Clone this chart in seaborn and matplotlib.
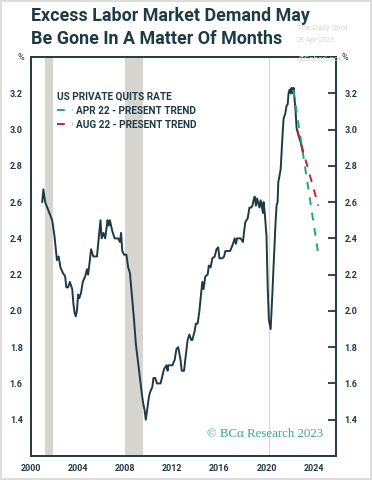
import matplotlib
matplotlib.use('Agg')
import matplotlib.pyplot as plt
import seaborn as sns
import pandas as pd

# US private quits rate (fractional year, %)
years = [2000.95, 2001.05, 2001.2, 2001.5, 2001.8, 2002.0, 2002.2, 2002.35, 2002.5, 2002.7,
         2002.9, 2003.0, 2003.15, 2003.3, 2003.5, 2003.6, 2003.7, 2003.8, 2003.9, 2004.0,
         2004.1, 2004.25, 2004.4, 2004.6, 2004.75, 2004.85, 2005.0, 2005.1, 2005.3, 2005.6,
         2005.8, 2005.9, 2006.0, 2006.15, 2006.3, 2006.4, 2006.5, 2006.6, 2006.7, 2006.9,
         2007.1, 2007.4, 2007.55, 2007.65, 2007.75, 2007.9, 2008.1, 2008.25, 2008.4, 2008.6,
         2008.75, 2008.9, 2009.1, 2009.3, 2009.4, 2009.5, 2009.65, 2009.75, 2009.9, 2010.0,
         2010.1, 2010.3, 2010.4, 2010.55, 2010.7, 2011.0, 2011.15, 2011.3, 2011.5, 2011.6,
         2011.65, 2012.0, 2012.2, 2012.35, 2012.5, 2012.7, 2012.8, 2013.0, 2013.1, 2013.3,
         2013.45, 2013.6, 2013.7, 2013.9, 2014.0, 2014.15, 2014.3, 2014.45, 2014.55, 2014.65,
         2014.8, 2015.0, 2015.1, 2015.25, 2015.4, 2015.6, 2015.75, 2015.9, 2016.0, 2016.25,
         2016.4, 2016.5, 2016.9, 2017.1, 2017.3, 2017.4, 2017.5, 2017.8, 2018.0, 2018.1,
         2018.2, 2018.4, 2018.55, 2018.7, 2018.8, 2018.9, 2019.0, 2019.1, 2019.2, 2019.4,
         2019.5, 2019.7, 2019.75, 2019.85, 2020.0, 2020.1, 2020.2, 2020.35, 2020.5, 2020.6,
         2020.77, 2020.85, 2020.94, 2021.0, 2021.2, 2021.36, 2021.45, 2021.6, 2021.7, 2021.8,
         2021.87, 2021.96, 2022.04, 2022.13, 2022.2, 2022.3, 2022.38, 2022.47, 2022.55, 2022.7,
         2022.9, 2023.1]
quits = [2.60, 2.67, 2.60, 2.55, 2.50, 2.41, 2.28, 2.30, 2.24, 2.21,
         2.19, 2.13, 2.13, 2.16, 2.12, 2.04, 1.99, 1.97, 2.00, 2.09,
         2.07, 2.10, 2.16, 2.19, 2.23, 2.20, 2.28, 2.34, 2.30, 2.30,
         2.43, 2.50, 2.40, 2.43, 2.40, 2.45, 2.50, 2.47, 2.50, 2.44,
         2.40, 2.40, 2.38, 2.43, 2.33, 2.31, 2.31, 2.24, 2.21, 2.06,
         1.95, 1.82, 1.71, 1.60, 1.55, 1.50, 1.45, 1.40, 1.47, 1.52,
         1.55, 1.58, 1.63, 1.63, 1.60, 1.60, 1.64, 1.68, 1.70, 1.67,
         1.70, 1.70, 1.73, 1.79, 1.80, 1.73, 1.67, 1.67, 1.73, 1.84,
         1.87, 1.84, 1.84, 1.89, 1.93, 1.93, 2.00, 2.10, 2.16, 2.12,
         2.19, 2.20, 2.25, 2.24, 2.29, 2.30, 2.34, 2.35, 2.29, 2.29,
         2.30, 2.33, 2.33, 2.36, 2.40, 2.37, 2.40, 2.40, 2.38, 2.44,
         2.49, 2.51, 2.57, 2.57, 2.58, 2.61, 2.63, 2.58, 2.62, 2.57,
         2.61, 2.54, 2.60, 2.54, 2.41, 2.13, 1.95, 1.90, 2.10, 2.25,
         2.49, 2.58, 2.60, 2.71, 2.78, 2.97, 3.06, 3.09, 3.13, 3.14,
         3.20, 3.22, 3.20, 3.23, 3.20, 3.23, 3.17, 3.10, 3.01, 2.97,
         2.93, 2.87]

# trend extrapolations
apr_trend_x = [2022.27, 2024.45]
apr_trend_y = [3.22, 2.29]
aug_trend_x = [2022.6, 2024.4]
aug_trend_y = [3.00, 2.58]

# recessions (start, end)
recessions = [(2001.2, 2001.9), (2008.0, 2009.5), (2020.22, 2020.32)]

x_ticks = [2000, 2004, 2008, 2012, 2016, 2020, 2024]
y_ticks = [1.4, 1.6, 1.8, 2.0, 2.2, 2.4, 2.6, 2.8, 3.0, 3.2]

dark = '#1e3a44'
green = '#22a77c'
red = '#c2272d'

sns.set_style('white')
plt.rcParams['font.family'] = ['Roboto', 'DejaVu Sans']

fig = plt.figure(figsize=(3.72, 4.8), dpi=100)
fig.patch.set_edgecolor('#dddddd')
fig.patch.set_linewidth(1.5)
ax = fig.add_axes([31 / 372, 24 / 480, 305 / 372, 399 / 480])

for a, b in recessions:
    ax.axvspan(a, b, color='#d6d5cf', lw=0, zorder=0)

df = pd.DataFrame({'year': years, 'quits': quits})
sns.lineplot(data=df, x='year', y='quits', ax=ax, color=dark, lw=1.4, zorder=3)
sns.lineplot(x=apr_trend_x, y=apr_trend_y, ax=ax, color=green, lw=1.4,
             linestyle=(0, (4, 4)), label='APR 22 - PRESENT TREND', zorder=4)
sns.lineplot(x=aug_trend_x, y=aug_trend_y, ax=ax, color=red, lw=1.4,
             linestyle=(0, (4, 4)), label='AUG 22 - PRESENT TREND', zorder=4)

ax.set_xlim(2000, 2025.9)
ax.set_ylim(1.2, 3.4)
ax.set_xticks(x_ticks)
ax.set_yticks(y_ticks)
ax.set_xticklabels([str(t) for t in x_ticks])
ax.set_yticklabels([f'{t:.1f}' for t in y_ticks])
ax.set_xlabel('')
ax.set_ylabel('')

for s in ax.spines.values():
    s.set_color(dark)
    s.set_linewidth(1.4)
ax.tick_params(axis='both', direction='in', length=6, width=1.3, color=dark,
               labelcolor=dark, labelsize=6.5)
ax.tick_params(axis='x', pad=6)
ax.tick_params(axis='y', pad=6, right=True, labelright=True)
for lbl in ax.get_xticklabels() + ax.get_yticklabels():
    lbl.set_fontweight('bold')

leg = ax.legend(loc='upper left', bbox_to_anchor=(0.068, 0.925), frameon=False,
                title='US PRIVATE QUITS RATE', alignment='left', borderpad=0,
                handlelength=1.6, handletextpad=0.35, labelspacing=0.4,
                prop={'size': 7.2, 'weight': 'bold'})
leg.get_title().set_fontsize(7.2)
leg.get_title().set_fontweight('bold')
leg.get_title().set_color(dark)
for t in leg.get_texts():
    t.set_color(dark)

fig.text(31 / 372, 1 - 21 / 480, 'Excess Labor Market Demand May',
         fontweight='bold', fontsize=12.9, color=dark, ha='left', va='baseline')
fig.text(31 / 372, 1 - 44 / 480, 'Be Gone In A Matter Of Months',
         fontweight='bold', fontsize=12.9, color=dark, ha='left', va='baseline')
fig.text(21 / 372, 1 - 58 / 480, '%', fontsize=6.5, color=dark, ha='center', va='center')
fig.text(345 / 372, 1 - 58 / 480, '%', fontsize=6.5, color=dark, ha='center', va='center')

wm = '#d6d6d6'
fig.text(297 / 372, 1 - 28 / 480, 'The Daily Shot', fontsize=5.8, color=wm, ha='left', va='center')
fig.text(297 / 372, 1 - 40 / 480, '28-Apr-2023', fontsize=5, color=wm, ha='left', va='center')
fig.text(297 / 372, 1 - 59 / 480, '@SoberLook', fontsize=5.8, color=wm, ha='left', va='center')

ax.text(0.577, 0.055, '© BCα Research 2023', transform=ax.transAxes,
        family=['Liberation Serif', 'DejaVu Serif'], fontsize=9.3, color='#3aa78a',
        ha='left', va='center', zorder=5)

fig.savefig('out.png', dpi=100)
